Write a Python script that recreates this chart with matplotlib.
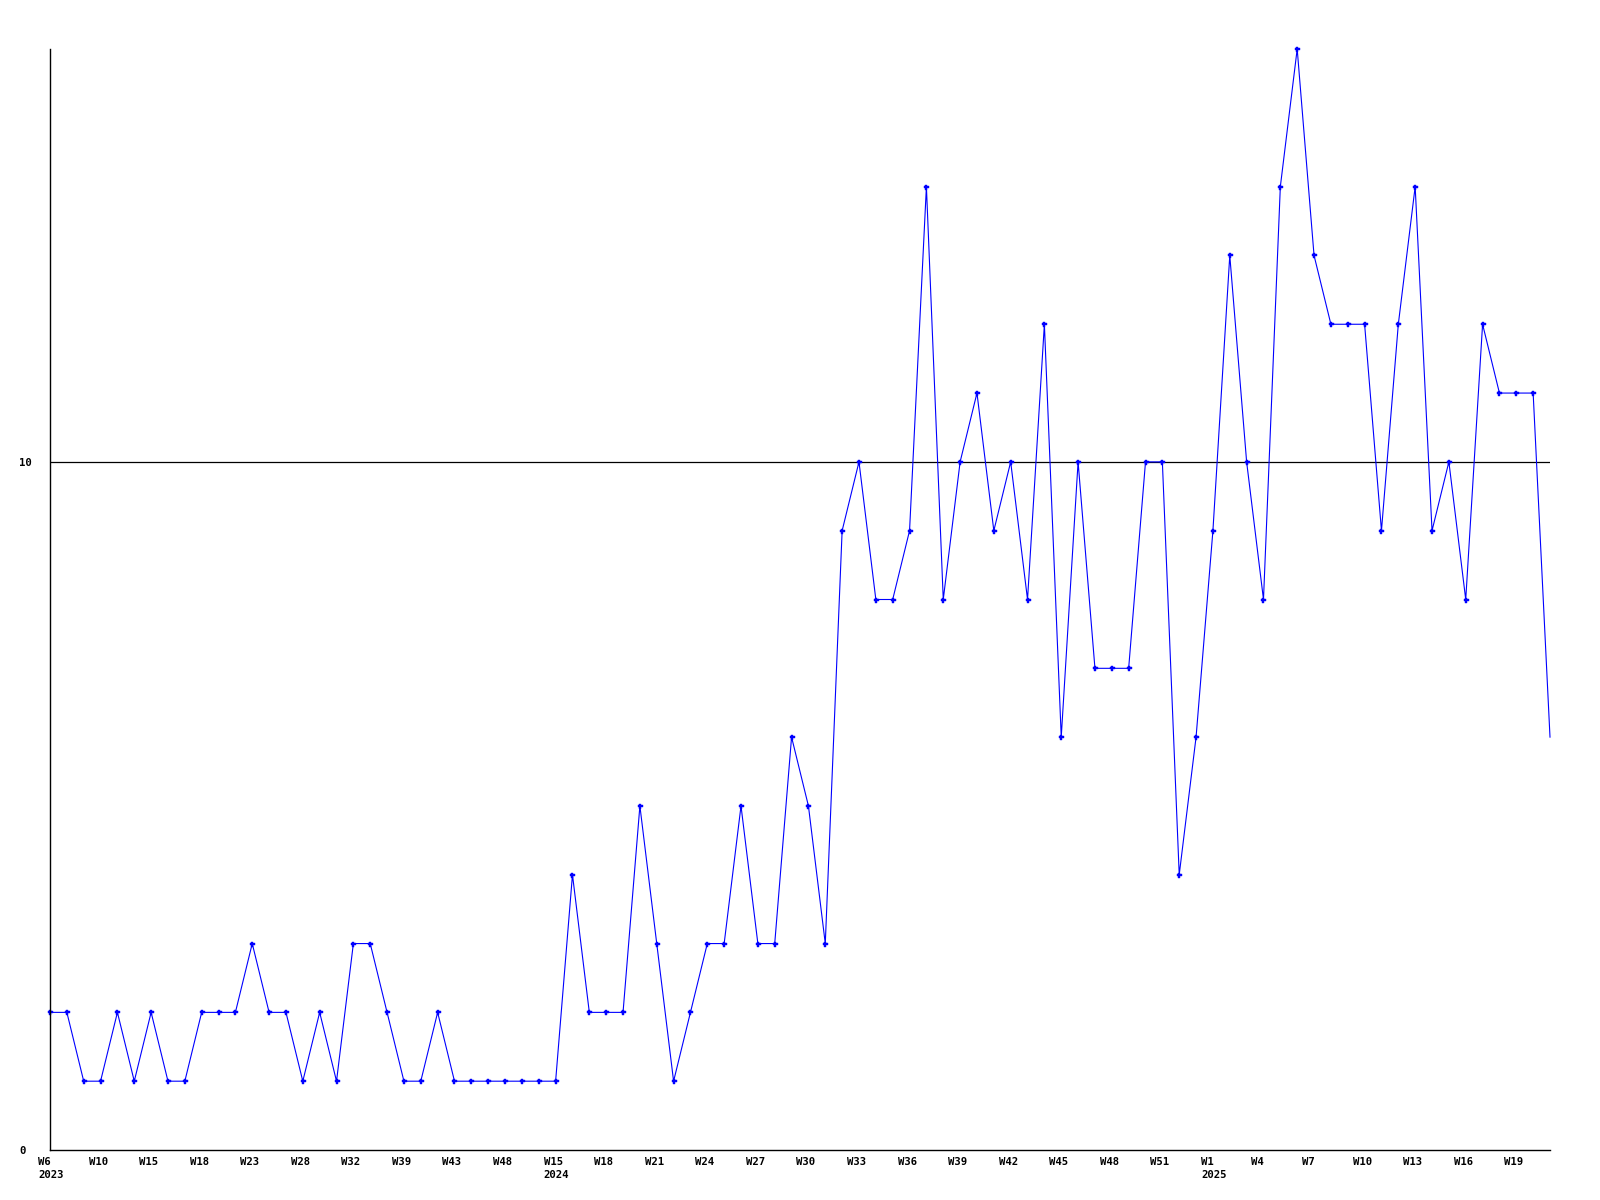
import matplotlib
matplotlib.use("Agg")
import matplotlib.pyplot as plt
import matplotlib.transforms as mtransforms

values = [2, 2, 1, 1, 2, 1, 2, 1, 1, 2, 2, 2, 3, 2, 2, 1, 2, 1, 3, 3, 2, 1, 1, 2, 1, 1, 1, 1, 1, 1, 1,
          4, 2, 2, 2, 5, 3, 1, 2, 3, 3, 5, 3, 3, 6, 5, 3, 9, 10, 8, 8, 9, 14, 8, 10, 11, 9, 10, 8, 12, 6,
          10, 7, 7, 7, 10, 10, 4, 6, 9, 13, 10, 8, 14, 16, 13, 12, 12, 12, 9, 12, 14, 9, 10, 8, 12, 11,
          11, 11, 6]
tick_weeks = ["W6", "W10", "W15", "W18", "W23", "W28", "W32", "W39", "W43", "W48",
              "W15", "W18", "W21", "W24", "W27", "W30", "W33", "W36", "W39", "W42",
              "W45", "W48", "W51", "W1", "W4", "W7", "W10", "W13", "W16", "W19"]
year_labels = {0: "2023", 10: "2024", 23: "2025"}
y_ticks = [0, 10]
ref_line = 10

font = dict(family="DejaVu Sans Mono", fontweight="bold", fontsize=7.7)

fig = plt.figure(figsize=(16, 12), dpi=100)
ax = fig.add_axes([50 / 1600, 50 / 1200, 1500 / 1600, 1101 / 1200])

x = list(range(len(values)))
ax.plot(x, values, color="#0000ff", lw=0.8, marker="P", markersize=3.6,
        markeredgewidth=0.3, markevery=list(range(len(values) - 1)), clip_on=False)
ax.axhline(ref_line, color="black", lw=0.9, zorder=1)

ax.set_xlim(0, len(values) - 1)
ax.set_ylim(0, 16)

for s in ["top", "right"]:
    ax.spines[s].set_visible(False)
for s in ["left", "bottom"]:
    ax.spines[s].set_color("black")
    ax.spines[s].set_linewidth(1.0)

step = 3
tick_pos = [i * step for i in range(len(tick_weeks))]
labels = []
for i, w in enumerate(tick_weeks):
    labels.append(w + ("\n" + year_labels[i] if i in year_labels else ""))
ax.set_xticks(tick_pos)
ax.set_xticklabels(labels, linespacing=1.4, **font)
ax.tick_params(axis="x", length=0, pad=5)
off = mtransforms.ScaledTranslation(-12 / 100, 0, fig.dpi_scale_trans)
for lab in ax.get_xticklabels():
    lab.set_horizontalalignment("left")
    lab.set_verticalalignment("top")
    lab.set_transform(lab.get_transform() + off)

ax.set_yticks(y_ticks)
ax.set_yticklabels([str(v) for v in y_ticks], **font)
ax.tick_params(axis="y", length=0, pad=22.3)
for lab in ax.get_yticklabels():
    lab.set_horizontalalignment("left")

fig.savefig("out.png", dpi=100, facecolor="white")
